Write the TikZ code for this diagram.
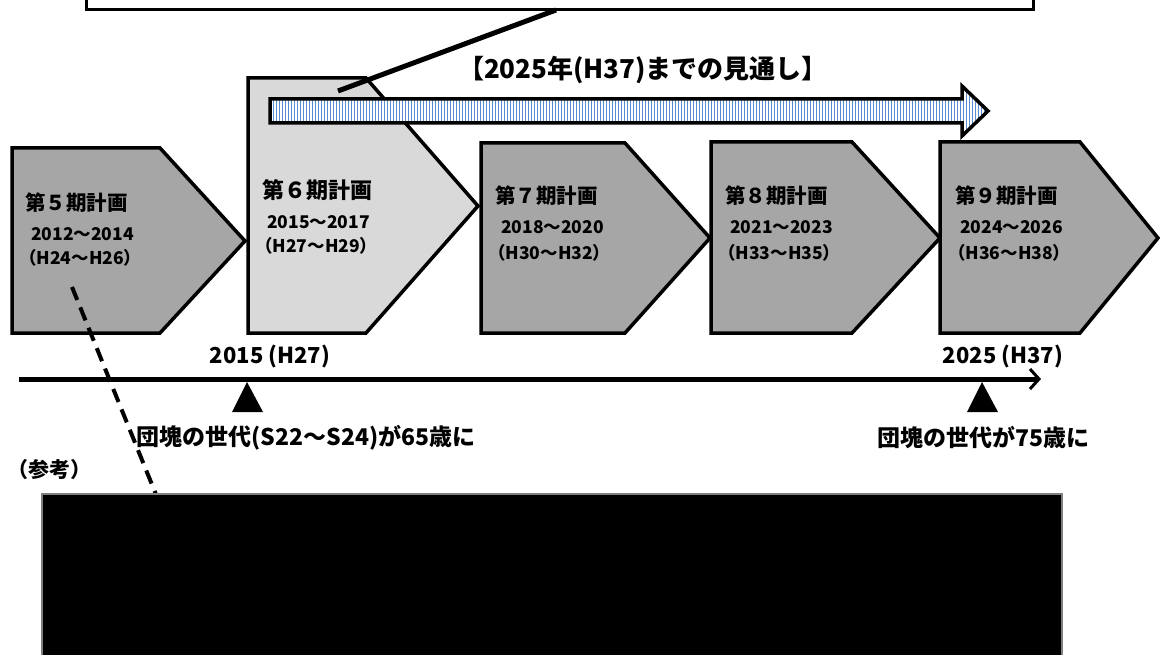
\documentclass[tikz,border=0pt]{standalone}
\usepackage{fontspec}
\setmainfont{Noto Sans CJK JP}
\usetikzlibrary{arrows.meta}
\definecolor{pdark}{HTML}{A6A6A6}
\definecolor{plight}{HTML}{D9D9D9}
\definecolor{stripe}{HTML}{5B8BD0}
\tikzset{
  plan/.style={draw=black, line width=3.5pt, line join=miter},
  darkplan/.style={plan, fill=pdark},
  lightplan/.style={plan, fill=plight},
  ttl/.style={anchor=west, inner sep=0pt, font=\bfseries\fontsize{20.5}{24}\selectfont},
  bigttl/.style={ttl, font=\bfseries\fontsize{22}{26}\selectfont},
  yr/.style={anchor=west, inner sep=0pt, font=\bfseries\fontsize{17.5}{20}\selectfont},
  lbl/.style={inner sep=0pt, font=\bfseries\fontsize{23}{27}\selectfont},
  tlbl/.style={inner sep=0pt, font=\bfseries\fontsize{22}{26}\selectfont},
  stripeline/.style={draw=stripe, line width=0.9pt},
}
\begin{document}
\begin{tikzpicture}[x=1pt,y=-1pt]
\useasboundingbox (0,0) rectangle (1160,655);

% top box
\coordinate (tbA) at (86,-10);
\coordinate (tbB) at (1033,10);
\draw[line width=3pt, fill=white] (tbA) rectangle (tbB);

% period 5
\draw[darkplan] (12,148) -- (160,148) -- (245,241) -- (160,333) -- (12,333) -- cycle;
\node[ttl] (t5) at (25,203) {第５期計画};
\node[yr] (y5) at (31,234) {2012〜2014};
\node[yr] (h5) at (19,258) {（H24〜H26）};

% period 6
\draw[lightplan] (248,78) -- (366,78) -- (478,206) -- (366,333) -- (248,333) -- cycle;
\node[bigttl] (t6) at (262,190) {第６期計画};
\node[yr] (y6) at (267,222) {2015〜2017};
\node[yr] (h6) at (255,246) {（H27〜H29）};

% period 7
\draw[darkplan] (481,143) -- (625,143) -- (710,238) -- (625,333) -- (481,333) -- cycle;
\node[ttl] (t7) at (495,196) {第７期計画};
\node[yr] (y7) at (501,227) {2018〜2020};
\node[yr] (h7) at (488,253) {（H30〜H32）};

% period 8
\draw[darkplan] (711,142) -- (852,142) -- (940,238) -- (852,333) -- (711,333) -- cycle;
\node[ttl] (t8) at (725,196) {第８期計画};
\node[yr] (y8) at (730,227) {2021〜2023};
\node[yr] (h8) at (718,253) {（H33〜H35）};

% period 9
\draw[darkplan] (940,142) -- (1080,142) -- (1158,238) -- (1080,333) -- (940,333) -- cycle;
\node[ttl] (t9) at (955,196) {第９期計画};
\node[yr] (y9) at (960,227) {2024〜2026};
\node[yr] (h9) at (948,253) {（H36〜H38）};

% callout line
\coordinate (cA) at (556,10);
\coordinate (cB) at (338,91);
\draw[line width=5pt] (cA) -- (cB);

% title
\node[inner sep=0pt, font=\bfseries\fontsize{26}{30}\selectfont] (title) at (643,70) {【2025年(H37)までの見通し】};

% striped outlook arrow
\def\outlook{(270,99) -- (962,99) -- (962,86) -- (988,111) -- (962,136) -- (962,123) -- (270,123) -- cycle}
\fill[white] \outlook;
\begin{scope}
  \clip \outlook;
  \foreach \x in {270,273,...,990} \draw[stripeline] (\x,80) -- (\x,140);
\end{scope}
\draw[line width=3.5pt, line join=miter] \outlook;

% timeline
\node[tlbl] (l15) at (270,357) {2015 (H27)};
\node[tlbl] (l25) at (1003,357) {2025 (H37)};
\coordinate (tl0) at (19,379);
\coordinate (tl1) at (1041,379);
\draw[line width=5pt, -{Straight Barb[length=9pt,width=20pt,line width=3pt]}] (tl0) -- (tl1);
\fill (247,382) -- (263,412) -- (232,412) -- cycle;
\fill (982,382) -- (998,412) -- (967,412) -- cycle;
\node[lbl] (e1) at (306,438) {団塊の世代(S22〜S24)が65歳に};
\node[lbl] (e2) at (983,438) {団塊の世代が75歳に};
\node[inner sep=0pt, font=\bfseries\fontsize{21}{24}\selectfont] (ref) at (50,470) {（参考）};

% dashed leader
\coordinate (d0) at (72,287);
\coordinate (d1) at (157,497);
\draw[line width=4pt, dash pattern=on 14pt off 8pt] (d0) -- (d1);

% black box
\draw[fill=black, draw=gray, line width=1.5pt] (42,494) rectangle (1062,662);
\end{tikzpicture}
\end{document}
